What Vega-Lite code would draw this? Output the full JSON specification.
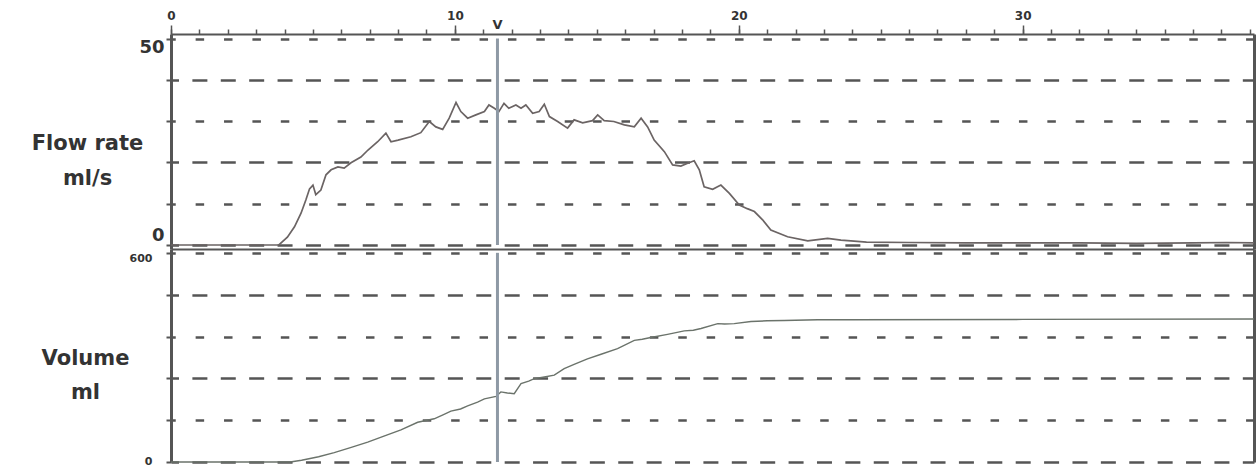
{
  "$schema": "https://vega.github.io/schema/vega-lite/v6.json",
  "background": "white",
  "padding": {"left": 31, "top": 9, "right": 3, "bottom": 0},
  "bounds": "flush",
  "spacing": 0,
  "config": {
    "view": {"stroke": null},
    "font": "DejaVu Sans",
    "axis": {
      "labelFont": "DejaVu Sans",
      "titleFont": "DejaVu Sans",
      "labelFontWeight": "bold",
      "titleFontWeight": "bold",
      "labelColor": "#333333",
      "titleColor": "#333333",
      "domainColor": "#555555",
      "tickColor": "#555555"
    }
  },
  "datasets": {
    "flow": [
      {"t": 0, "flow": 0}, {"t": 3.8, "flow": 0}, {"t": 4.1, "flow": 1.9}, {"t": 4.35, "flow": 4.4},
      {"t": 4.58, "flow": 7.7}, {"t": 4.75, "flow": 10.9}, {"t": 4.88, "flow": 13.6}, {"t": 5.0, "flow": 14.5},
      {"t": 5.1, "flow": 12.2}, {"t": 5.28, "flow": 13.3}, {"t": 5.46, "flow": 17.0}, {"t": 5.64, "flow": 18.2},
      {"t": 5.88, "flow": 18.9}, {"t": 6.1, "flow": 18.6}, {"t": 6.34, "flow": 19.9}, {"t": 6.69, "flow": 21.3},
      {"t": 6.94, "flow": 23.0}, {"t": 7.28, "flow": 25.0}, {"t": 7.57, "flow": 27.1}, {"t": 7.75, "flow": 25.0},
      {"t": 8.0, "flow": 25.4}, {"t": 8.45, "flow": 26.2}, {"t": 8.8, "flow": 27.2}, {"t": 9.1, "flow": 29.9},
      {"t": 9.33, "flow": 28.6}, {"t": 9.57, "flow": 28.0}, {"t": 9.8, "flow": 30.7}, {"t": 10.04, "flow": 34.5},
      {"t": 10.21, "flow": 32.3}, {"t": 10.45, "flow": 30.7}, {"t": 10.74, "flow": 31.5}, {"t": 11.04, "flow": 32.3},
      {"t": 11.2, "flow": 33.9}, {"t": 11.39, "flow": 33.1}, {"t": 11.55, "flow": 32.3}, {"t": 11.73, "flow": 34.3},
      {"t": 11.9, "flow": 33.1}, {"t": 12.15, "flow": 33.9}, {"t": 12.33, "flow": 33.1}, {"t": 12.5, "flow": 33.9},
      {"t": 12.74, "flow": 31.9}, {"t": 12.97, "flow": 32.3}, {"t": 13.15, "flow": 34.1}, {"t": 13.33, "flow": 31.1},
      {"t": 13.62, "flow": 29.9}, {"t": 13.97, "flow": 28.3}, {"t": 14.2, "flow": 30.3}, {"t": 14.5, "flow": 29.6},
      {"t": 14.85, "flow": 30.1}, {"t": 15.03, "flow": 31.5}, {"t": 15.26, "flow": 30.1}, {"t": 15.6, "flow": 29.9},
      {"t": 15.97, "flow": 29.1}, {"t": 16.32, "flow": 28.6}, {"t": 16.56, "flow": 30.7}, {"t": 16.79, "flow": 28.6},
      {"t": 17.02, "flow": 25.4}, {"t": 17.38, "flow": 22.6}, {"t": 17.67, "flow": 19.4}, {"t": 17.96, "flow": 19.1},
      {"t": 18.2, "flow": 19.8}, {"t": 18.43, "flow": 20.4}, {"t": 18.61, "flow": 18.2}, {"t": 18.78, "flow": 14.1},
      {"t": 19.08, "flow": 13.5}, {"t": 19.37, "flow": 14.5}, {"t": 19.67, "flow": 12.5}, {"t": 20.02, "flow": 9.7},
      {"t": 20.3, "flow": 8.8}, {"t": 20.55, "flow": 8.1}, {"t": 20.84, "flow": 6.1}, {"t": 21.13, "flow": 3.6},
      {"t": 21.72, "flow": 2.0}, {"t": 22.43, "flow": 1.0}, {"t": 23.13, "flow": 1.6}, {"t": 23.6, "flow": 1.2},
      {"t": 23.95, "flow": 1.0}, {"t": 24.5, "flow": 0.7}, {"t": 26, "flow": 0.6}, {"t": 28, "flow": 0.5},
      {"t": 30, "flow": 0.5}, {"t": 32, "flow": 0.5}, {"t": 34, "flow": 0.4}, {"t": 36, "flow": 0.5},
      {"t": 37.2, "flow": 0.6}, {"t": 38.15, "flow": 0.5}
    ],
    "volume": [
      {"t": 0, "vol": 0}, {"t": 4.2, "vol": 0}, {"t": 4.6, "vol": 5}, {"t": 5.2, "vol": 15},
      {"t": 5.75, "vol": 27}, {"t": 6.35, "vol": 42}, {"t": 6.93, "vol": 57}, {"t": 7.5, "vol": 74},
      {"t": 8.1, "vol": 92}, {"t": 8.69, "vol": 114}, {"t": 9.27, "vol": 124}, {"t": 9.6, "vol": 136},
      {"t": 9.86, "vol": 146}, {"t": 10.2, "vol": 152}, {"t": 10.45, "vol": 161}, {"t": 10.8, "vol": 172},
      {"t": 11.04, "vol": 181}, {"t": 11.45, "vol": 188}, {"t": 11.62, "vol": 201}, {"t": 11.85, "vol": 198},
      {"t": 12.09, "vol": 196}, {"t": 12.33, "vol": 225}, {"t": 12.6, "vol": 232}, {"t": 12.8, "vol": 239},
      {"t": 13.1, "vol": 243}, {"t": 13.5, "vol": 249}, {"t": 13.85, "vol": 268}, {"t": 14.2, "vol": 280},
      {"t": 14.67, "vol": 296}, {"t": 15.15, "vol": 309}, {"t": 15.73, "vol": 325}, {"t": 16.32, "vol": 349},
      {"t": 16.6, "vol": 352}, {"t": 16.9, "vol": 357}, {"t": 17.49, "vol": 366}, {"t": 18.08, "vol": 376},
      {"t": 18.4, "vol": 378}, {"t": 18.67, "vol": 383}, {"t": 19.26, "vol": 397}, {"t": 19.5, "vol": 396},
      {"t": 19.84, "vol": 397}, {"t": 20.43, "vol": 403}, {"t": 21.0, "vol": 405}, {"t": 21.6, "vol": 406},
      {"t": 22.78, "vol": 408}, {"t": 24, "vol": 408}, {"t": 30, "vol": 409}, {"t": 38.15, "vol": 410}
    ],
    "marker": [
      {"t": 11.5, "label": "V"}
    ]
  },
  "vconcat": [
    {
      "width": 1083,
      "height": 215,
      "layer": [
        {
          "data": {"name": "flow"},
          "mark": {"type": "line", "color": "#6b6464", "strokeWidth": 1.7},
          "encoding": {
            "x": {
              "field": "t", "type": "quantitative",
              "scale": {"domain": [0, 38.15], "nice": false, "zero": false},
              "axis": {
                "orient": "top", "values": [0, 10, 20, 30], "title": null, "grid": false,
                "tickSize": 9, "tickWidth": 1.5, "domainWidth": 2,
                "labelFontSize": 12, "labelPadding": 3, "labelFlush": false
              }
            },
            "y": {
              "field": "flow", "type": "quantitative",
              "scale": {"domain": [-0.97, 51.09], "nice": false, "zero": false},
              "axis": {
                "orient": "left", "values": [0, 10, 20, 30, 40, 50],
                "labelExpr": "datum.value == 0 || datum.value == 50 ? datum.label : ''",
                "labelFontSize": 18, "labelPadding": 2,
                "labelBaseline": {"condition": {"test": "datum.value == 0", "value": "bottom"}, "value": "top"},
                "tickSize": 5, "tickWidth": 2, "domainWidth": 3,
                "grid": true, "gridColor": "#555555", "gridWidth": 2.5,
                "gridDash": {"condition": {"test": "datum.value % 20 == 0", "value": [15, 13.39]}, "value": [8.5, 19.89]},
                "gridDashOffset": {"condition": {"test": "datum.value % 20 == 0", "value": 7.5}, "value": 4.25},
                "title": ["Flow rate", "ml/s"], "titleAngle": 0, "titleAlign": "center", "titleBaseline": "top",
                "titleX": -84, "titleY": 98, "titleFontSize": 21, "titleLineHeight": 35
              }
            }
          }
        },
        {
          "data": {"name": "marker"},
          "mark": {"type": "rule", "color": "#8e99a5", "strokeWidth": 3},
          "encoding": {
            "x": {
              "field": "t", "type": "quantitative",
              "axis": {
                "orient": "top", "title": null, "grid": false, "labels": false, "domain": false,
                "values": [0, 1, 2, 3, 4, 5, 6, 7, 8, 9, 10, 11, 12, 13, 14, 15, 16, 17, 18, 19, 20, 21, 22, 23, 24, 25, 26, 27, 28, 29, 30, 31, 32, 33, 34, 35, 36, 37, 38],
                "tickSize": 5, "tickWidth": 1.5
              }
            },
            "y": {
              "datum": 0, "type": "quantitative",
              "axis": {"orient": "right", "title": null, "grid": false, "labels": false, "ticks": false, "domain": true, "domainWidth": 3}
            },
            "y2": {"datum": 50}
          }
        },
        {
          "data": {"name": "marker"},
          "mark": {"type": "text", "dy": -13.5, "fontSize": 13, "fontWeight": "bold", "font": "DejaVu Sans", "color": "#333333", "baseline": "middle"},
          "encoding": {
            "x": {
              "field": "t", "type": "quantitative",
              "axis": {"orient": "bottom", "title": null, "grid": false, "labels": false, "ticks": false, "domain": true, "domainWidth": 2}
            },
            "y": {"datum": 50, "type": "quantitative", "axis": null},
            "text": {"field": "label"}
          }
        }
      ],
      "resolve": {"axis": {"x": "independent", "y": "independent"}}
    },
    {
      "width": 1083,
      "height": 213,
      "layer": [
        {
          "data": {"name": "volume"},
          "mark": {"type": "line", "color": "#6b736b", "strokeWidth": 1.4},
          "encoding": {
            "x": {
              "field": "t", "type": "quantitative",
              "scale": {"domain": [0, 38.15], "nice": false, "zero": false},
              "axis": null
            },
            "y": {
              "field": "vol", "type": "quantitative",
              "scale": {"domain": [0, 611], "nice": false, "zero": false},
              "axis": {
                "orient": "left", "values": [0, 120, 240, 360, 480, 600],
                "labelExpr": "datum.value == 0 || datum.value == 600 ? datum.label : ''",
                "labelFontSize": 11, "labelPadding": 14,
                "labelBaseline": {"condition": {"test": "datum.value == 0", "value": "alphabetic"}, "value": "top"},
                "labelOffset": {"condition": {"test": "datum.value == 0", "value": 2}, "value": 0},
                "tickSize": 5, "tickWidth": 2, "domainWidth": 3,
                "grid": true, "gridColor": "#555555", "gridWidth": 2.5,
                "gridDash": {"condition": {"test": "datum.value % 240 == 0", "value": [15, 13.39]}, "value": [8.5, 19.89]},
                "gridDashOffset": {"condition": {"test": "datum.value % 240 == 0", "value": 7.5}, "value": 4.25},
                "title": ["Volume", "ml"], "titleAngle": 0, "titleAlign": "center", "titleBaseline": "top",
                "titleX": -86, "titleY": 98, "titleFontSize": 21, "titleLineHeight": 34
              }
            }
          }
        },
        {
          "data": {"name": "marker"},
          "mark": {"type": "rule", "color": "#8e99a5", "strokeWidth": 3},
          "encoding": {
            "x": {"field": "t", "type": "quantitative", "axis": null},
            "y": {
              "datum": 0, "type": "quantitative",
              "axis": {"orient": "right", "title": null, "grid": false, "labels": false, "ticks": false, "domain": true, "domainWidth": 3}
            },
            "y2": {"datum": 600}
          }
        }
      ],
      "resolve": {"axis": {"x": "independent", "y": "independent"}}
    }
  ]
}
